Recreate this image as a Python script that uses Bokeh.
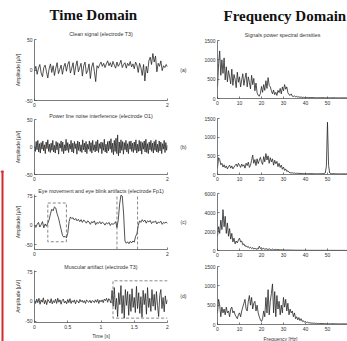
import numpy as np
from bokeh.plotting import figure
from bokeh.layouts import row, column
from bokeh.models import FixedTicker, Title, Range1d, NumeralTickFormatter
from bokeh.embed import file_html
from bokeh.resources import INLINE

# ---------------- data ----------------
heading_time = "Time Domain"
heading_freq = "Frequency Domain"
time_subtitles = ["Clean signal (electrode T3)",
                  "Power line noise interference (electrode O1)",
                  "Eye movement and eye blink artifacts (electrode Fp1)",
                  "Muscular artifact (electrode T3)"]
freq_subtitle = "Signals power spectral densities"
panel_tags = ["(a)", "(b)", "(c)", "(d)"]

# time signals [uV]
sig_clean_dt = 0.02
sig_clean = [-2, 6, -7, 3, 9, -5, -11, 4, 8, -3,
             -13, 2, 10, -4, 7, -9, 3, 12, -6, 1,
             8, -7, 5, 11, -2, 9, 14, -5, 3, 12,
             -8, 6, 15, -3, 4, 11, -10, 7, 13, -6,
             -1, 10, -14, 5, 12, -2, -19, 7, 3, 9,
             13, 6, 11, 4, 10, 15, 7, 12, 5, 14,
             8, 3, 13, 6, 10, 16, 4, 9, 12, 3,
             11, 7, 14, 5, 10, 2, 13, 8, -4, 11,
             4, -9, 9, -18, 6, -5, 15, 21, 9, 27,
             13, 23, -3, 11, 6, 15, -1, 7, 4, 9, 5]

sig_line_dt = 0.0125
sig_line = [2, -8, 10, -5, 12, -9, 6, -11, 8, -4,
            11, -7, 4, -12, 9, -3, 13, -8, 5, -10,
            7, -6, 12, -9, 3, -11, 10, -5, 8, -13,
            6, -2, 11, -8, 9, -12, 4, -7, 14, -6,
            8, -10, 5, -4, 12, -9, 7, -11, 10, -3,
            6, -13, 11, -6, 9, -8, 4, -10, 13, -5,
            7, -9, 10, -12, 5, -4, 11, -8, 8, -11,
            12, -6, 4, -9, 10, -7, 13, -10, 6, -3,
            9, -12, 8, -6, 14, -9, 5, -11, 10, -7,
            11, -4, 15, -10, 7, -14, 12, -8, 16, -12,
            22, -16, 9, -11, 13, -6, 10, -13, 8, -5,
            12, -9, 6, -12, 10, -4, 11, -8, 7, -10,
            9, -6, 13, -11, 5, -8, 12, -7, 10, -13,
            8, -4, 11, -9, 14, -10, 6, -12, 9, -5,
            12, -8, 7, -11, 10, -6, 13, -9, 5, -10,
            11, -7, 9, -12, 6, -4, 12, -10, 8, -6, 3]

sig_eye_dt = 0.02
sig_eye = [0, -5, 3, 8, -4, 2, 10, -6, 4, -2, 6,
           15, 30, 42, 38, 48,
           45, 30, 20, 5, -10,
           -25, -30, -28, -32, -20,
           10, 22, 18,
           20, 14, 18, 12, 16, 10, 15, 8, 14, 11,
           6, 12, 9, 3, 10, 7, 12, 2, 8, 5,
           10, 4, 9, 6, 1, 7, 4, 8, 0, 5, 3,
           5, 10, -5, 15, 55, 78, 76, 30, -40, -46,
           -42, -47, -41, -45, -40, -43, -28, -22, 0, 12,
           8, 15, 10, 14, 6, 12, 9, 13, 5, 10,
           8, 12, 4, 9, 7, 11, 3, 8, 6, 9, 5]

sig_muscle_dt = 1.0 / 60
sig_muscle = [2, -5, 6, -3, 8, -7, 4, -2, 9, -6,
              3, -8, 5, 1, -4, 7, -6, 2, -3, 6,
              -5, 8, -2, 4, -7, 3, 6, -4, 1, -6,
              5, -3, 7, -5, 2, -2, 4, -6, 3, 1,
              -4, 5, -1, 3, -3, 2, -5, 4, 0, -2,
              3, -4, 2, 1, -3, 4, -2, 5, -5, 3,
              -1, 4, -3, 6, 2, 8, -2, 7, 3, -4,
              28, -12, 35, -20, 8, -38, 22, -8, 40, -30,
              15, -42, 30, -10, 25, -35, 18, -25, 32, -15,
              10, -28, 38, -18, 22, -30, 12, -40, 28, -8,
              20, -32, 35, -15, 8, -25, 30, -12, 18, -22,
              25, -10, -38, 15, 30, -18, 10, -26, 14, -6, 4]

# artifact markers
eye_box_t = [0.2, 0.48]
eye_box_amp = [58, -42]
blink_t = [1.24, 1.55]
muscle_t = [1.18, 2.0]
muscle_amp = [52, -42]

# power spectral densities, 0.5 Hz bins
psd_df = 0.5
psd_clean = [300, 900, 1230, 600, 1000, 650, 1050, 480, 820, 430,
             720, 560, 380, 760, 340, 620, 500, 280, 680, 420,
             560, 300, 480, 640, 340, 520, 660, 300, 560, 420,
             250, 600, 360, 520, 200, 400, 150, 80, 60, 130,
             310, 160, 360, 210, 460, 260, 540, 340, 300, 200,
             120, 220, 100, 160, 80, 210, 150, 260, 120, 300,
             200, 360, 240, 300, 150, 100, 80, 120, 60, 50,
             70, 40, 55, 35, 45, 30, 38, 28, 32, 25,
             30, 24, 28, 22, 26, 20, 25, 22, 24, 20,
             22, 19, 24, 20, 21, 18, 23, 19, 20, 18,
             21, 18, 20, 17, 19, 18, 20, 16, 19, 17,
             18, 16, 19, 17, 18, 15, 17, 16, 18, 16]
psd_line = [180, 450, 400, 260, 300, 200, 260, 180, 230, 150,
            210, 250, 170, 230, 150, 200, 240, 280, 210, 300,
            250, 190, 280, 220, 260, 170, 300, 240, 330, 190,
            250, 380, 520, 300, 400, 240, 420, 290, 380, 460,
            340, 270, 480, 340, 560, 390, 500, 300, 450, 340,
            420, 250, 380, 290, 350, 210, 300, 190, 250, 140,
            200, 110, 150, 80, 100, 60, 50, 40, 45, 35,
            40, 30, 35, 28, 32, 26, 30, 25, 28, 24,
            26, 22, 25, 21, 24, 20, 23, 21, 22, 20,
            21, 19, 22, 20, 21, 19, 22, 26, 40, 220,
            1400, 240, 40, 24, 20, 19, 21, 18, 20, 17,
            19, 17, 18, 16, 18, 17, 16, 18, 17, 16]
psd_eye = [1500, 2500, 1800, 3200, 2200, 4300, 2500, 3600, 1800, 2900,
           1500, 2300, 1200, 1800, 900, 1300, 700, 1000, 800, 1100,
           1300, 900, 1000, 600, 700, 450, 500, 350, 420, 250,
           350, 200, 300, 150, 260, 120, 200, 150, 450, 200,
           300, 150, 250, 100, 200, 150, 100, 180, 120, 80,
           150, 100, 80, 120, 60, 100, 80, 60, 90, 50,
           70, 50, 60, 40, 55, 35, 50, 30, 45, 30,
           40, 28, 35, 25, 32, 24, 30, 22, 28, 20,
           25, 20, 24, 19, 22, 18, 21, 18, 20, 17,
           19, 16, 18, 16, 17, 15, 17, 14, 16, 15,
           16, 14, 15, 13, 15, 14, 14, 13, 15, 12,
           14, 13, 13, 12, 14, 12, 13, 11, 12, 11]
psd_muscle = [300, 650, 500, 200, 450, 300, 400, 250, 450, 300,
              350, 200, 400, 450, 300, 350, 250, 200, 150, 250,
              300, 200, 350, 450, 550, 650, 400, 350, 600, 750,
              500, 700, 400, 550, 600, 350, 500, 300, 200, 120,
              80, 150, 350, 200, 700, 300, 900, 250, 600, 800,
              1050, 300, 850, 200, 750, 400, 600, 250, 500, 300,
              700, 450, 650, 350, 550, 250, 400, 300, 350, 200,
              300, 150, 200, 120, 180, 100, 150, 80, 100, 60,
              80, 50, 60, 40, 45, 35, 40, 30, 35, 28,
              30, 26, 28, 24, 26, 22, 25, 21, 24, 20,
              22, 19, 21, 18, 20, 18, 19, 17, 19, 16,
              18, 16, 17, 15, 17, 16, 15, 16, 15, 14]

time_xticks_short = [0, 2]
time_xticks_full = [0, 0.5, 1, 1.5, 2]
freq_xticks = [0, 10, 20, 30, 40, 50, 60]
amp_ticks_ab = [-50, 0, 50]
amp_ticks_cd = [-50, 0, 75]
psd_ticks = [0, 500, 1000, 1500]
psd_ticks_c = [0, 2000, 4000, 6000]

# ---------------- styling helpers ----------------
SANS = "Liberation Sans"
SERIF = "Liberation Serif"
INK = "#262626"
AX = "#444444"


def style_small_title(t, standoff):
    t.align = "center"
    t.text_font = SANS
    t.text_font_size = "5.3px"
    t.text_font_style = "normal"
    t.text_color = "#333333"
    t.standoff = standoff


def make_fig(width, height, xr, yr, bl, br, bt, bb, heading=None, heading_offset=0,
             subtitle=None):
    p = figure(width=width, height=height, x_range=Range1d(*xr), y_range=Range1d(*yr),
               output_backend="svg", toolbar_location=None,
               title=heading if heading is not None else subtitle,
               min_border_left=bl, min_border_right=br,
               min_border_top=bt, min_border_bottom=bb)
    p.outline_line_color = None
    p.xgrid.visible = False
    p.ygrid.visible = False
    p.border_fill_color = "white"
    p.background_fill_color = "white"
    for ax in p.axis:
        ax.axis_line_color = AX
        ax.axis_line_width = 0.7
        ax.major_tick_line_color = AX
        ax.major_tick_line_width = 0.7
        ax.major_tick_in = 2
        ax.major_tick_out = 0
        ax.minor_tick_line_color = None
        ax.major_label_text_font = SANS
        ax.major_label_text_font_size = "5px"
        ax.major_label_text_color = "#333333"
        ax.major_label_standoff = 2
        ax.axis_label_text_font = SANS
        ax.axis_label_text_font_size = "5px"
        ax.axis_label_text_font_style = "normal"
        ax.axis_label_text_color = "#333333"
        ax.axis_label_standoff = 1
    p.xaxis.formatter = NumeralTickFormatter(format="0.[0]")
    p.yaxis.formatter = NumeralTickFormatter(format="0")
    if heading is not None:
        p.title.align = "left"
        p.title.offset = heading_offset
        p.title.text_font = SERIF
        p.title.text_font_size = "15px"
        p.title.text_font_style = "bold"
        p.title.text_color = "#111111"
        p.title.standoff = 8
        if subtitle is not None:
            st = Title(text=subtitle)
            style_small_title(st, 5)
            p.add_layout(st, "above")
    elif subtitle is not None:
        style_small_title(p.title, 2)
    return p


EDGE_W = 4
LW, RW = 167, 176
L_BL, L_BR = 30, 4
R_BL, R_BR = 46, 0
FREQ_MAX = 59.1

# ---------------- red edge fragment at far left ----------------
edge = figure(width=EDGE_W, height=341, x_range=Range1d(0, 4), y_range=Range1d(0, 171),
              output_backend="svg", toolbar_location=None, x_axis_type=None,
              y_axis_type=None, min_border_left=0, min_border_right=0,
              min_border_top=170, min_border_bottom=0)
edge.outline_line_color = None
edge.xgrid.visible = False
edge.ygrid.visible = False
edge.quad(left=[1, 0], right=[3, 3], bottom=[0, 169], top=[171, 171],
          fill_color="#d42a2a", line_color=None)

# ---------------- time domain column ----------------
time_specs = [
    (sig_clean, sig_clean_dt, (-50, 50), amp_ticks_ab, time_xticks_short, 109, 39, 9),
    (sig_line, sig_line_dt, (-50, 50), amp_ticks_ab, time_xticks_short, 74, 9, 9),
    (sig_eye, sig_eye_dt, (-62, 80), amp_ticks_cd, time_xticks_short, 75, 11, 8),
    (sig_muscle, sig_muscle_dt, (-53, 78), amp_ticks_cd, time_xticks_full, 83, 12, 18),
]
left = []
for i, (sig, dt, yr, yt, xt, h, bt, bb) in enumerate(time_specs):
    p = make_fig(LW, h, (0, 2), yr, L_BL, L_BR, bt, bb,
                 heading=heading_time if i == 0 else None, heading_offset=15,
                 subtitle=time_subtitles[i])
    p.xaxis.ticker = FixedTicker(ticks=xt)
    p.yaxis.ticker = FixedTicker(ticks=yt)
    p.yaxis.axis_label = "Amplitude [µV]"
    t = np.arange(len(sig)) * dt
    p.line(t, sig, line_color=INK, line_width=0.8)
    if i == 2:
        x0, x1 = eye_box_t
        y0, y1 = eye_box_amp
        p.line([x0, x1, x1, x0, x0], [y0, y0, y1, y1, y0], line_color="#555555",
               line_width=0.7, line_dash="3 2")
        for bx in blink_t:
            p.line([bx, bx], [yr[0], yr[1]], line_color="#555555", line_width=0.7,
                   line_dash="3 2")
    if i == 3:
        x0, x1 = muscle_t
        y0, y1 = muscle_amp
        p.line([x1, x0, x0, x1], [y0, y0, y1, y1], line_color="#555555",
               line_width=0.7, line_dash="3 2")
        p.xaxis.axis_label = "Time [s]"
    left.append(p)

# ---------------- frequency domain column ----------------
freq_specs = [
    (psd_clean, (0, 1500), psd_ticks, 107, 40, 9),
    (psd_line, (0, 1500), psd_ticks, 76, 11, 9),
    (psd_eye, (0, 6000), psd_ticks_c, 76, 10, 9),
    (psd_muscle, (0, 1500), psd_ticks, 82, 7, 15),
]
right = []
for i, (psd, yr, yt, h, bt, bb) in enumerate(freq_specs):
    p = make_fig(RW, h, (0, FREQ_MAX), yr, R_BL, R_BR, bt, bb,
                 heading=heading_freq if i == 0 else None, heading_offset=6,
                 subtitle=freq_subtitle if i == 0 else None)
    p.xaxis.ticker = FixedTicker(ticks=freq_xticks)
    p.yaxis.ticker = FixedTicker(ticks=yt)
    p.yaxis.axis_label = panel_tags[i]
    p.yaxis.axis_label_orientation = "horizontal"
    p.yaxis.axis_label_standoff = 15
    f = np.arange(len(psd)) * psd_df
    p.line(f, psd, line_color=INK, line_width=0.8)
    if i == 3:
        p.add_layout(Title(text="Frequency [Hz]", align="left", offset=46,
                           text_font=SANS, text_font_size="5px",
                           text_font_style="normal", text_color="#333333",
                           standoff=0), "below")
    right.append(p)

layout = row(edge, column(*left), column(*right))
open("out.html", "w").write(file_html(layout, INLINE))
